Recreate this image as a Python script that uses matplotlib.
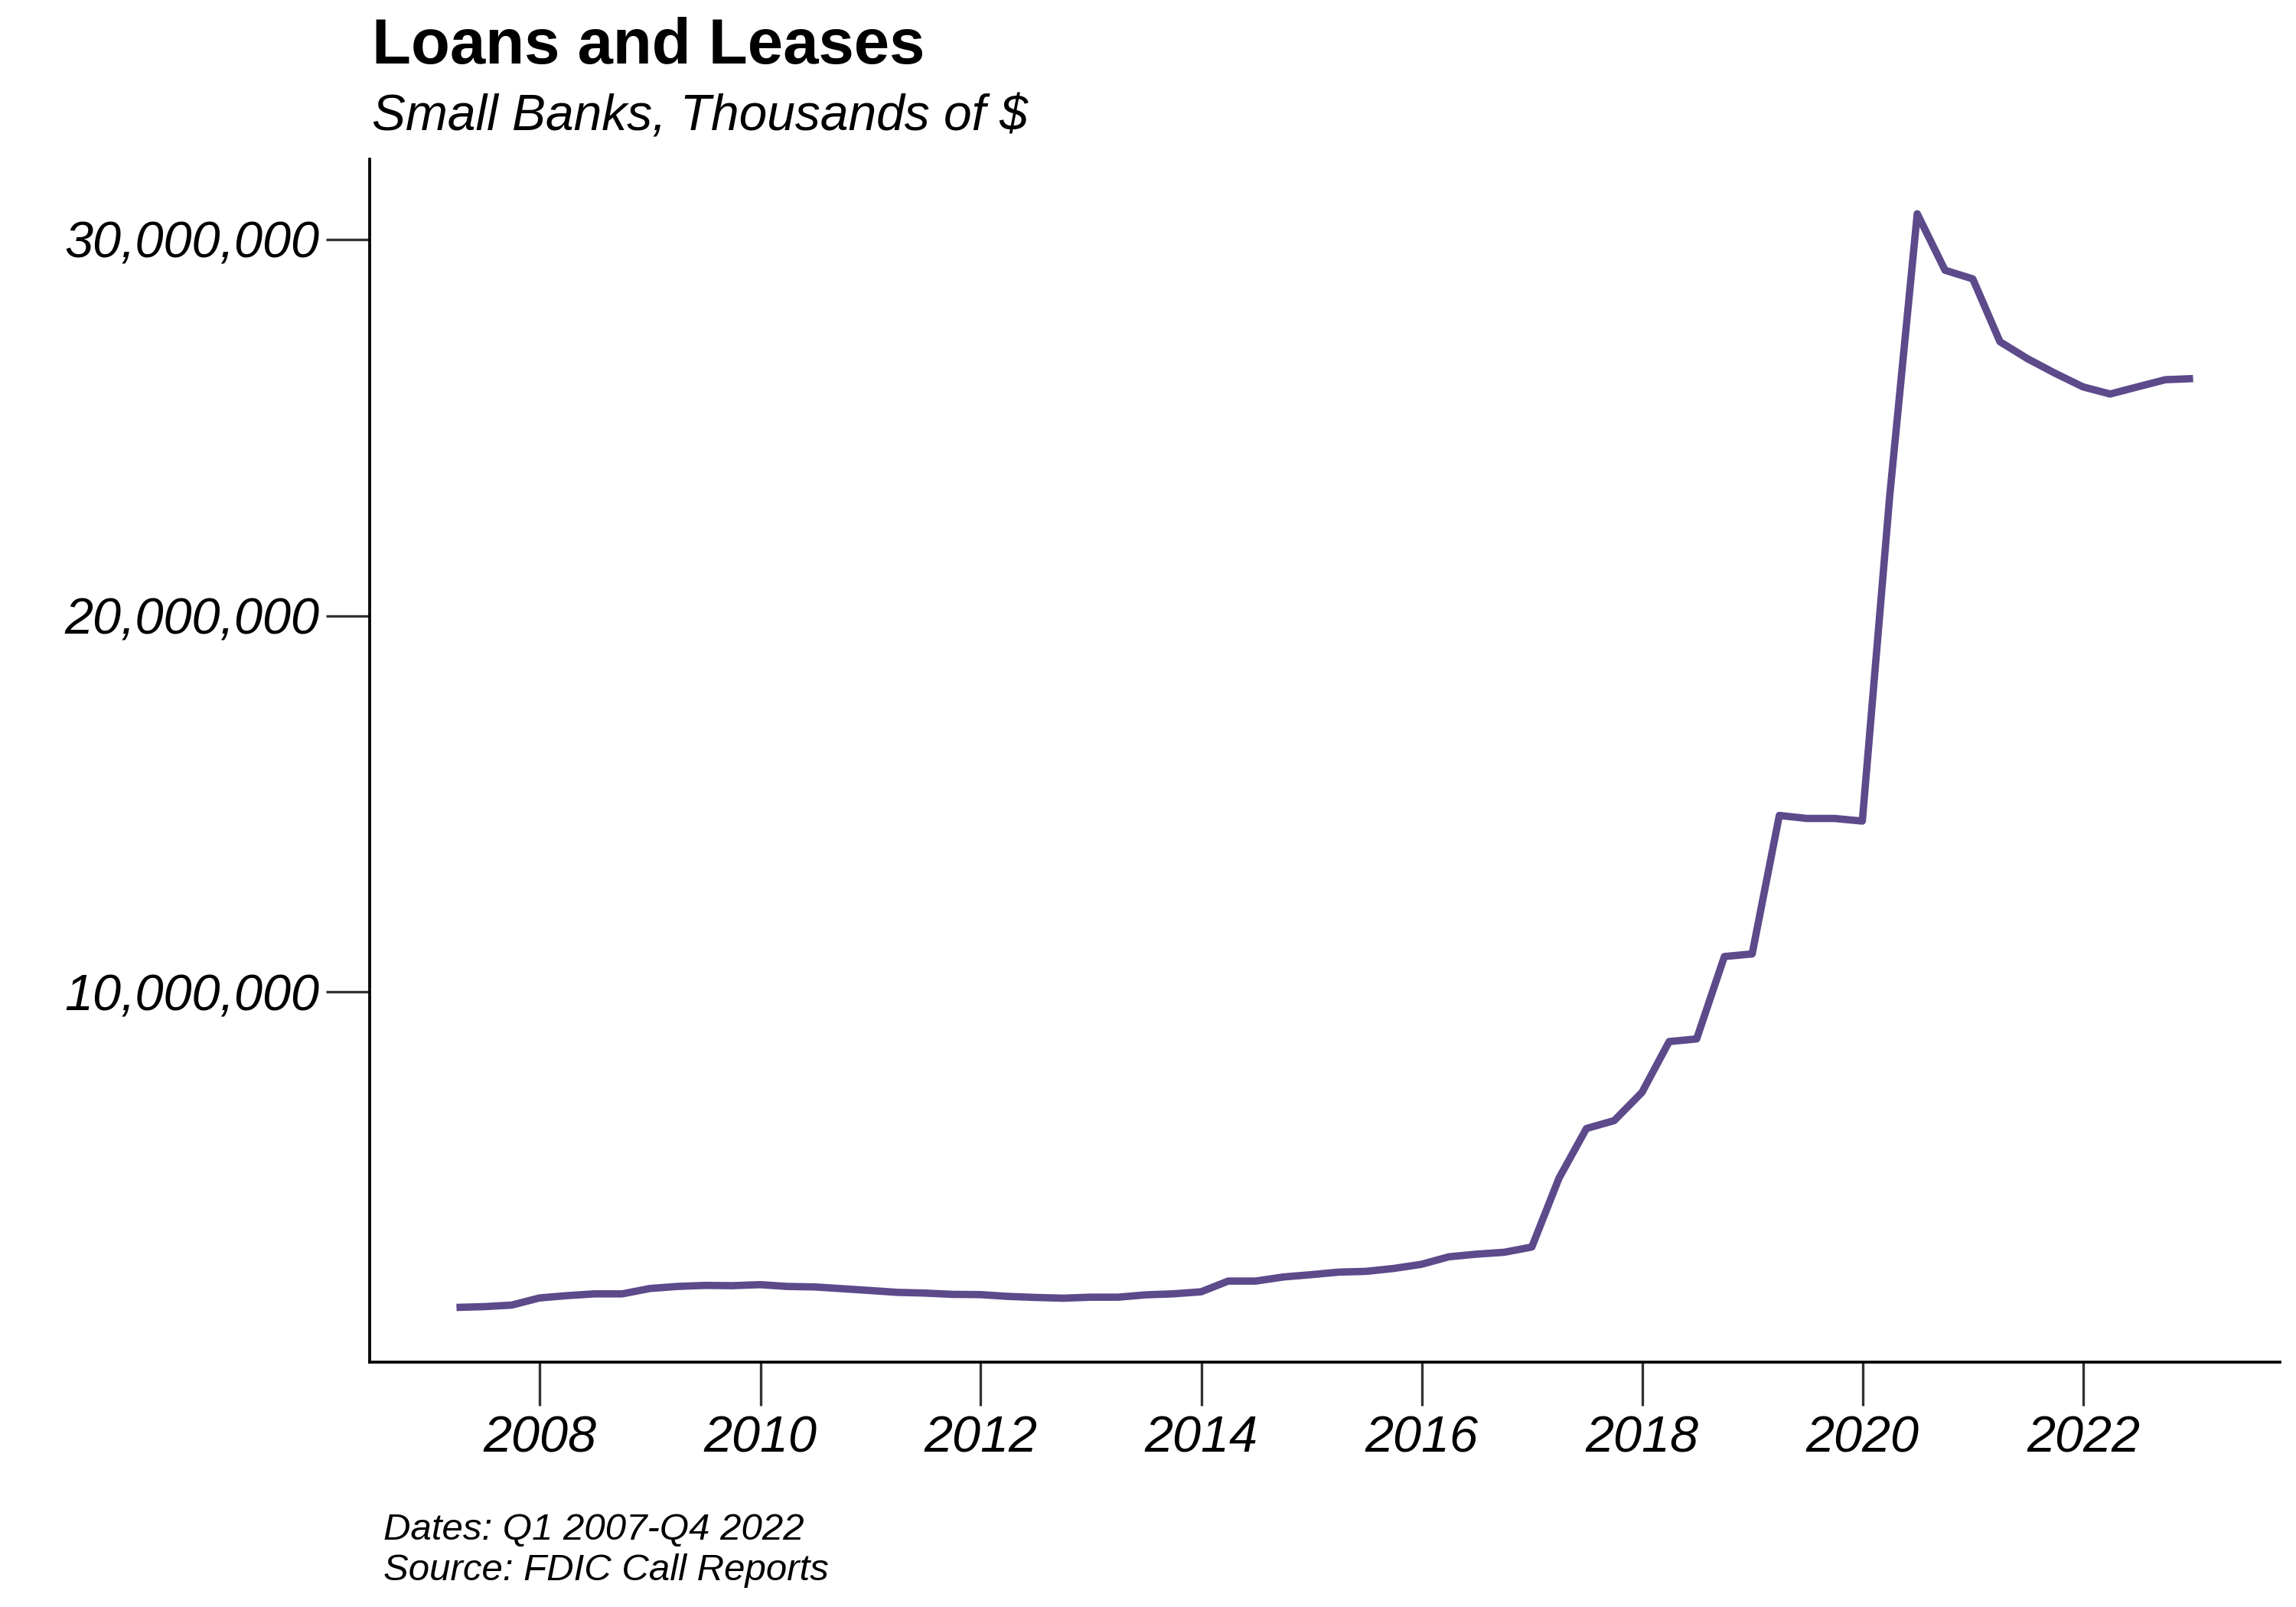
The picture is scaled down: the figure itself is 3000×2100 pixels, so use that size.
import numpy as np
import pandas as pd
import matplotlib
matplotlib.use('Agg')
import matplotlib.pyplot as plt
import matplotlib.dates as mdates
from matplotlib.ticker import FuncFormatter

plt.rcParams['font.family'] = ['Liberation Sans', 'DejaVu Sans']

# quarters Q1 2007 - Q4 2022 (plotted at quarter end)
quarters = pd.period_range('2007Q1', '2022Q4', freq='Q')
dates = quarters.end_time.normalize()

# loans and leases, small banks, thousands of $
loans = [
    1615000, 1635000, 1677000, 1867000, 1928000, 1975000, 1975000, 2118000,
    2172000, 2200000, 2193000, 2220000, 2172000, 2159000, 2112000, 2064000,
    2015000, 1996000, 1962000, 1955000, 1908000, 1880000, 1860000, 1887000,
    1887000, 1949000, 1976000, 2030000, 2315000, 2315000, 2424000, 2485000,
    2553000, 2573000, 2650000, 2760000, 2960000, 3030000, 3080000, 3220000,
    5050000, 6370000, 6580000, 7330000, 8680000, 8750000, 10940000, 11010000,
    14690000, 14610000, 14610000, 14540000, 23200000, 30680000, 29180000, 28950000,
    27280000, 26830000, 26440000, 26080000, 25890000, 26080000, 26270000, 26300000,
]

df = pd.DataFrame({'date': dates, 'loans': loans})

fig = plt.figure(figsize=(10, 7), dpi=300)
ax = fig.add_axes([0.161, 0.1524, 0.832, 0.7486])

ax.plot(df['date'], df['loans'], color='#5c4a8b', linewidth=2.3,
        solid_joinstyle='round', solid_capstyle='butt')

# ggplot-like 5% expansion
x0, x1 = mdates.date2num(df['date'].min()), mdates.date2num(df['date'].max())
dx = (x1 - x0) * 0.05
ax.set_xlim(x0 - dx, x1 + dx)
y0, y1 = min(loans), max(loans)
dy = (y1 - y0) * 0.05
ax.set_ylim(y0 - dy, y1 + dy)

ax.xaxis.set_major_locator(mdates.YearLocator(2))
ax.xaxis.set_major_formatter(mdates.DateFormatter('%Y'))
ax.set_yticks([10000000, 20000000, 30000000])
ax.yaxis.set_major_formatter(FuncFormatter(lambda v, p: f'{v:,.0f}'))

for s in ['top', 'right']:
    ax.spines[s].set_visible(False)
for s in ['left', 'bottom']:
    ax.spines[s].set_linewidth(0.9)
    ax.spines[s].set_color('black')

ax.tick_params(axis='both', length=13.7, width=0.8, color='#333333',
               labelsize=16, labelcolor='black')
ax.tick_params(axis='x', pad=3)
ax.tick_params(axis='y', pad=2)
for lab in ax.get_xticklabels() + ax.get_yticklabels():
    lab.set_fontstyle('italic')

fig.text(0.162, 0.9605, 'Loans and Leases', fontsize=20, fontweight='bold',
         ha='left', va='baseline')
fig.text(0.162, 0.919, 'Small Banks, Thousands of $', fontsize=15.8,
         fontstyle='italic', ha='left', va='baseline')

fig.text(0.167, 0.0419, 'Dates: Q1 2007-Q4 2022', fontsize=11.8,
         fontstyle='italic', ha='left', va='baseline')
fig.text(0.167, 0.0167, 'Source: FDIC Call Reports', fontsize=11.8,
         fontstyle='italic', ha='left', va='baseline')

fig.savefig('out.png', dpi=300, facecolor='white')
